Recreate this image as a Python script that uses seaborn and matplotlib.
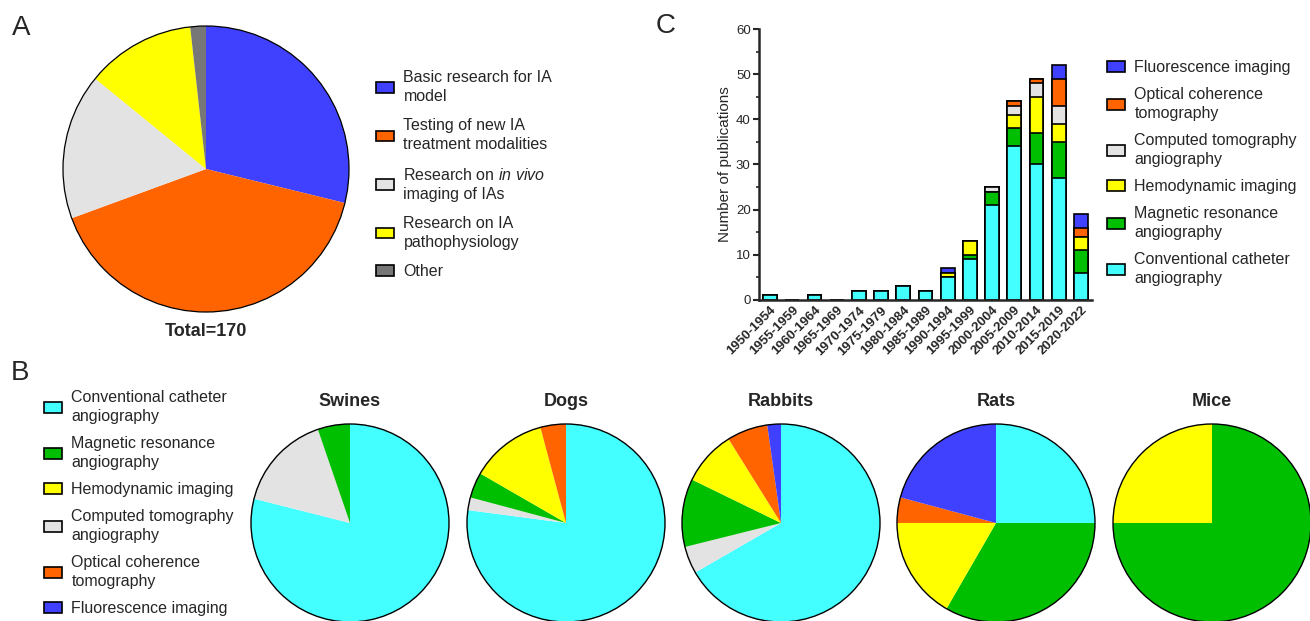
import matplotlib
matplotlib.use("Agg")
import matplotlib.pyplot as plt
from matplotlib.patches import Patch, Circle
from matplotlib.ticker import MultipleLocator
import seaborn as sns
import numpy as np

# ---- data -------------------------------------------------------------
# Panel A: aims of the studies
aim_labels = ["Basic research for IA\nmodel",
              "Testing of new IA\ntreatment modalities",
              "Research on $\\it{in\\ vivo}$\nimaging of IAs",
              "Research on IA\npathophysiology",
              "Other"]
aim_counts = [49, 69, 28, 21, 3]
aim_colors = ["#4040FF", "#FF6400", "#E3E3E3", "#FFFF00", "#777777"]

# Panel B: imaging modality per species
species = ["Swines", "Dogs", "Rabbits", "Rats", "Mice"]
sp_cca = [15, 37, 30, 6, 0]
sp_cta = [3, 1, 2, 0, 0]
sp_mra = [1, 2, 5, 8, 3]
sp_hemo = [0, 6, 4, 4, 1]
sp_oct = [0, 2, 3, 1, 0]
sp_fluor = [0, 0, 1, 5, 0]

# Panel C: publications per period, per modality
periods = ["1950-1954", "1955-1959", "1960-1964", "1965-1969", "1970-1974",
           "1975-1979", "1980-1984", "1985-1989", "1990-1994", "1995-1999",
           "2000-2004", "2005-2009", "2010-2014", "2015-2019", "2020-2022"]
pub_cca = [1, 0, 1, 0, 2, 2, 3, 2, 5, 9, 21, 34, 30, 27, 6]
pub_mra = [0, 0, 0, 0, 0, 0, 0, 0, 0, 1, 3, 4, 7, 8, 5]
pub_hemo = [0, 0, 0, 0, 0, 0, 0, 0, 1, 3, 0, 3, 8, 4, 3]
pub_cta = [0, 0, 0, 0, 0, 0, 0, 0, 0, 0, 1, 2, 3, 4, 0]
pub_oct = [0, 0, 0, 0, 0, 0, 0, 0, 0, 0, 0, 1, 1, 6, 2]
pub_fluor = [0, 0, 0, 0, 0, 0, 0, 0, 1, 0, 0, 0, 0, 3, 3]

C_CCA, C_MRA, C_HEMO = "#44FFFF", "#00BF00", "#FFFF00"
C_CTA, C_OCT, C_FLUOR = "#E3E3E3", "#FF6400", "#4040FF"

sns.set_style("ticks")
plt.rcParams['font.family'] = ['Liberation Sans', 'DejaVu Sans']
plt.rcParams['mathtext.fontset'] = 'custom'
plt.rcParams['mathtext.rm'] = 'Liberation Sans'
plt.rcParams['mathtext.it'] = 'Liberation Sans:italic'

W, H = 1310, 621
fig = plt.figure(figsize=(W / 100, H / 100), dpi=100)


def px_axes(left, top, width, height):
    return fig.add_axes([left / W, 1 - (top + height) / H, width / W, height / H])


def draw_pie(cx, cy, r, values, colors, lw=1.0):
    ax = px_axes(cx - r * 1.02, cy - r * 1.02, 2.04 * r, 2.04 * r)
    ax.pie(values, colors=colors, startangle=90, counterclock=False,
           radius=1, wedgeprops=dict(linewidth=0))
    ax.add_patch(Circle((0, 0), 1, fill=False, ec="black", lw=lw, clip_on=False))
    ax.set_xlim(-1.02, 1.02)
    ax.set_ylim(-1.02, 1.02)
    ax.set_aspect("equal")
    ax.axis("off")
    return ax


def legend_at(left, top, colors, labels, spacing):
    handles = [Patch(facecolor=c, edgecolor="black", linewidth=1.2) for c in colors]
    leg = fig.legend(handles, labels, loc="upper left",
                     bbox_to_anchor=(left / W, 1 - top / H), frameon=False,
                     fontsize=11.5, borderpad=0, borderaxespad=0,
                     handlelength=1.1, handleheight=0.62, handletextpad=0.62,
                     labelspacing=spacing)
    for t in leg.get_texts():
        t.set_linespacing(1.34)
    return leg


# ---- panel A ------------------------------------------------------------
draw_pie(206, 169, 143, aim_counts, aim_colors, lw=0.9)
fig.text(206 / W, 1 - 332 / H, f"Total={sum(aim_counts)}", ha="center",
         va="center", fontsize=13, fontweight="bold")
legend_at(376, 70, aim_colors, aim_labels, 0.89)

# ---- panel B ------------------------------------------------------------
pie_x = [350, 566, 781, 996, 1212]
for i, name in enumerate(species):
    vals = [sp_cca[i], sp_cta[i], sp_mra[i], sp_hemo[i], sp_oct[i], sp_fluor[i]]
    draw_pie(pie_x[i], 523, 99, vals,
             [C_CCA, C_CTA, C_MRA, C_HEMO, C_OCT, C_FLUOR])
    fig.text(pie_x[i] / W, 1 - 402 / H, name, ha="center", va="center",
             fontsize=13, fontweight="bold")

legend_at(44, 390,
          [C_CCA, C_MRA, C_HEMO, C_CTA, C_OCT, C_FLUOR],
          ["Conventional catheter\nangiography", "Magnetic resonance\nangiography",
           "Hemodynamic imaging", "Computed tomography\nangiography",
           "Optical coherence\ntomography", "Fluorescence imaging"], 0.75)

# ---- panel C ------------------------------------------------------------
ax = px_axes(759, 29, 333, 271)
layers = [pub_cca, pub_mra, pub_hemo, pub_cta, pub_oct, pub_fluor]
layer_colors = [C_CCA, C_MRA, C_HEMO, C_CTA, C_OCT, C_FLUOR]
tops = np.cumsum(np.array(layers), axis=0)
for i in reversed(range(len(layers))):
    sns.barplot(x=periods, y=tops[i], color=layer_colors[i], saturation=1,
                edgecolor="black", linewidth=1.2, width=0.62, ax=ax)

ax.set_xlim(-0.5, 14.5)
ax.set_ylim(0, 60)
ax.yaxis.set_major_locator(MultipleLocator(10))
ax.yaxis.set_minor_locator(MultipleLocator(5))
ax.tick_params(axis="y", which="major", length=4, width=1.5, labelsize=9.5, pad=2)
ax.tick_params(axis="y", which="minor", length=2.5, width=1.2)
ax.tick_params(axis="x", length=0, pad=3)
ax.set_xticks(range(len(periods)))
ax.set_xticklabels(periods, rotation=45, ha="right", rotation_mode="anchor",
                   fontsize=9.5, fontweight="bold")
ax.set_ylabel("Number of publications", fontsize=11, labelpad=3)
ax.set_xlabel("")
for side in ["top", "right"]:
    ax.spines[side].set_visible(False)
for side in ["left", "bottom"]:
    ax.spines[side].set_linewidth(1.8)

legend_at(1107, 60,
          [C_FLUOR, C_OCT, C_CTA, C_HEMO, C_MRA, C_CCA],
          ["Fluorescence imaging", "Optical coherence\ntomography",
           "Computed tomography\nangiography", "Hemodynamic imaging",
           "Magnetic resonance\nangiography", "Conventional catheter\nangiography"],
          0.75)

# ---- panel letters --------------------------------------------------------
for letter, x, y in [("A", 12, 35), ("B", 11, 380), ("C", 656, 33)]:
    fig.text(x / W, 1 - y / H, letter, ha="left", va="baseline", fontsize=20)

fig.savefig("out.png", dpi=100)
